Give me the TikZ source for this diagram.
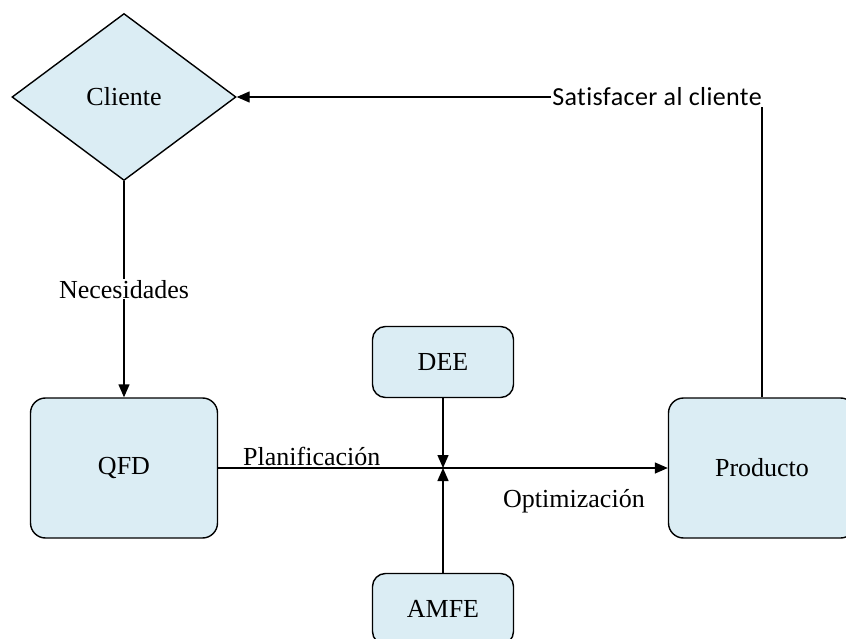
\documentclass[tikz,border=0pt]{standalone}
\usepackage{fontspec}
\setmainfont{Liberation Serif}
\newfontfamily\labelsans[LetterSpace=1.5,Ligatures=NoCommon]{Carlito}
\usetikzlibrary{shapes.geometric,arrows.meta}
\definecolor{boxfill}{RGB}{219,237,244}
\begin{document}
\begin{tikzpicture}[x=1pt,y=-1pt,
  every node/.style={font=\fontsize{26}{30}\selectfont},
  block/.style={draw,line width=1.4pt,fill=boxfill,rounded corners=15pt,inner sep=0pt},
  decision/.style={draw,line width=1.4pt,fill=boxfill,diamond,aspect=1.34,
    minimum width=224pt,minimum height=167pt,inner sep=0pt},
  conn/.style={line width=1.4pt},
  tip/.style={-{Triangle[length=13pt,width=11pt]}},
  lbl/.style={fill=white,inner sep=1pt}]
\useasboundingbox (0,0) rectangle (846,639);
\clip (0,0) rectangle (846,639);

% nodes
\node[decision] (cli) at (124,97) {Cliente};
\node[block,minimum width=187pt,minimum height=140pt] (qfd) at (124,468) {QFD};
\node[block,minimum width=187pt,minimum height=140pt] (prod) at (762,468) {Producto};
\node[block,minimum width=141pt,minimum height=71pt,rounded corners=13pt] (dee) at (443,362) {DEE};
\node[block,minimum width=141pt,minimum height=71pt,rounded corners=13pt] (amfe) at (443,609) {AMFE};
\coordinate (mid) at (443,468);
\coordinate (corner) at (763,97);

% connectors
\draw[conn,tip] (cli.south) -- node[lbl] {Necesidades} (qfd.north);
\draw[conn,tip] (qfd.east) -- (prod.west);
\draw[conn,tip] (dee.south) -- (mid);
\draw[conn,tip] (amfe.north) -- (mid);
\draw[conn,tip] (prod.north) |- (cli.east);

% labels
\node[anchor=base west,inner sep=0pt] (plan) at (243,465) {Planificación};
\node[anchor=base west,inner sep=0pt] (opt) at (503,507) {Optimización};
\node[lbl,anchor=east,font=\labelsans\fontsize{26}{30}\selectfont] (sat) at (corner) {Satisfacer al cliente};
\end{tikzpicture}
\end{document}
